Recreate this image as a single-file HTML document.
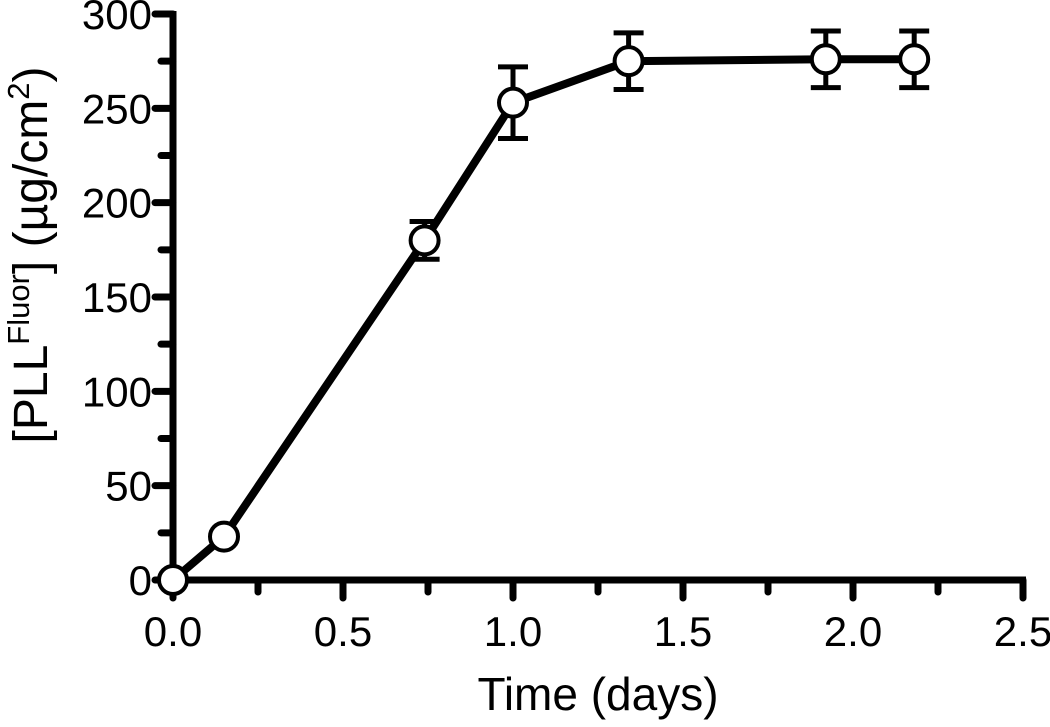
<!DOCTYPE html>
<html><head><meta charset="utf-8"><style>
html,body{margin:0;padding:0;background:#fff;}
svg{display:block;font-family:"Liberation Sans",sans-serif;}
</style></head><body>
<svg id="chart" width="1050" height="727" viewBox="0 0 1050 727" xmlns="http://www.w3.org/2000/svg"></svg>
<script>
const xVals=[0,0.15,0.74,1.0,1.34,1.92,2.18];
const yVals=[0,23,180,253,275,276,276];
const yErr=[0,0,10,19,15,15,15];
const xTicks=[0,0.5,1.0,1.5,2.0,2.5];
const xTickLabels=["0.0","0.5","1.0","1.5","2.0","2.5"];
const yTicks=[0,50,100,150,200,250,300];
const yTickLabels=["0","50","100","150","200","250","300"];
const X0=173,X1=1023,Y0=580,Y1=14;
const sx=v=>X0+(v-0)/(2.5-0)*(X1-X0);
const sy=v=>Y0-(v-0)/(300-0)*(Y0-Y1);
const svg=document.getElementById('chart');
const NS='http://www.w3.org/2000/svg';
function mk(tag,attrs,parent){const e=document.createElementNS(NS,tag);for(const k in attrs)e.setAttribute(k,attrs[k]);(parent||svg).appendChild(e);return e;}
let e=mk('line',{x1:X0,y1:Y1-3,x2:X0,y2:Y0+3,stroke:'#000','stroke-width':7});


e=mk('line',{x1:X0-3,y1:Y0,x2:X1+3,y2:Y0,stroke:'#000','stroke-width':7});


for(let i=0;i<xTicks.length;i++){
  const x=sx(xTicks[i]);
  e=mk('line',{x1:x,y1:Y0,x2:x,y2:Y0+18,stroke:'#000','stroke-width':7,'stroke-linecap':'round'});
  
  
  if(i<xTicks.length-1){
    const xm=sx((xTicks[i]+xTicks[i+1])/2);
    e=mk('line',{x1:xm,y1:Y0,x2:xm,y2:Y0+12,stroke:'#000','stroke-width':7,'stroke-linecap':'round'});
    
    
  }
  const t=mk('text',{x:x,y:646,'font-size':42,'text-anchor':'middle'});
  t.textContent=xTickLabels[i];
  
  
}
for(let i=0;i<yTicks.length;i++){
  const y=sy(yTicks[i]);
  e=mk('line',{x1:X0,y1:y,x2:X0-18,y2:y,stroke:'#000','stroke-width':7,'stroke-linecap':'round'});
  
  
  if(i<yTicks.length-1){
    const ym=sy((yTicks[i]+yTicks[i+1])/2);
    e=mk('line',{x1:X0,y1:ym,x2:X0-12,y2:ym,stroke:'#000','stroke-width':7,'stroke-linecap':'round'});
    
    
  }
  const t=mk('text',{x:152,y:y+15,'font-size':42,'text-anchor':'end'});
  t.textContent=yTickLabels[i];
  
  
}
let t=mk('text',{x:598,y:710,'font-size':46,'text-anchor':'middle'});
t.textContent='Time (days)';


t=mk('text',{transform:'translate(47,255) rotate(-90)','font-size':48,'text-anchor':'middle'});
t.innerHTML='[PLL<tspan font-size="31" dy="-18">Fluor</tspan><tspan dy="18">] (µg/cm</tspan><tspan font-size="31" dy="-18">2</tspan><tspan dy="18">)</tspan>';


const pts=xVals.map((v,i)=>sx(v)+','+sy(yVals[i])).join(' ');
e=mk('polyline',{points:pts,fill:'none',stroke:'#000','stroke-width':8,'stroke-linejoin':'round'});


for(let i=0;i<xVals.length;i++){
  if(!yErr[i])continue;
  const x=sx(xVals[i]),yt=sy(yVals[i]+yErr[i]),yb=sy(yVals[i]-yErr[i]);
  const g=mk('g',{stroke:'#000','stroke-width':5});
  
  
  mk('line',{x1:x,y1:yt,x2:x,y2:yb},g);
  mk('line',{x1:x-15,y1:yt,x2:x+15,y2:yt},g);
  mk('line',{x1:x-15,y1:yb,x2:x+15,y2:yb},g);
}
for(let i=0;i<xVals.length;i++){
  e=mk('circle',{cx:sx(xVals[i]),cy:sy(yVals[i]),r:14,fill:'#fff',stroke:'#000','stroke-width':4});
  
  
}
</script>
</body></html>
